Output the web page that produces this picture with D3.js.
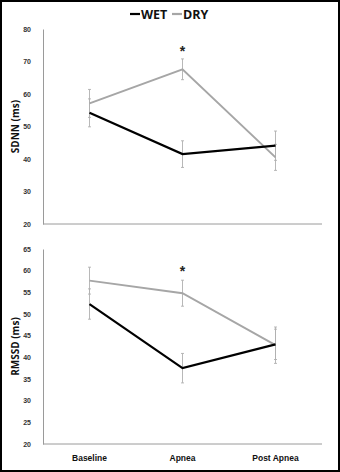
<!DOCTYPE html>
<html><head><meta charset="utf-8">
<script src="https://cdn.jsdelivr.net/npm/d3@7"></script>
<style>body{margin:0;background:#fff}svg{display:block}</style>
</head><body>
<script>
const categories = ["Baseline", "Apnea", "Post Apnea"];
const seriesNames = ["WET", "DRY"];
// SDNN (ms)
const sdnnWet = [54.2, 41.5, 44.1];
const sdnnWetErr = [4.3, 4.1, 4.5];
const sdnnDry = [57.1, 67.6, 40.5];
const sdnnDryErr = [4.3, 3.2, 4.0];
const sdnnTicks = [20, 30, 40, 50, 60, 70, 80];
// RMSSD (ms)
const rmssdWet = [52.3, 37.5, 43.0];
const rmssdWetErr = [3.5, 3.4, 3.5];
const rmssdDry = [57.7, 54.8, 42.8];
const rmssdDryErr = [3.1, 3.0, 4.2];
const rmssdTicks = [20, 25, 30, 35, 40, 45, 50, 55, 60, 65];
const significant = ["Apnea"];

const W = 340, H = 472;
const svg = d3.select("body").append("svg").attr("width", W).attr("height", H);
svg.append("rect").attr("x", 1).attr("y", 1).attr("width", W - 2).attr("height", H - 2)
  .attr("fill", "#fff").attr("stroke", "#000").attr("stroke-width", 2);

const colors = {WET: "#000", DRY: "#a6a6a6"};
const x = d3.scalePoint().domain(categories).range([43, 322]).padding(0.5);

// legend
const lg = svg.append("g").attr("font-family", "Open Sans, Arial, sans-serif").attr("font-weight", "bold").attr("font-size", 12.5);
const legendItems = [{name: "WET", x: 130}, {name: "DRY", x: 172}];
legendItems.forEach(d => {
  lg.append("line").attr("x1", d.x).attr("x2", d.x + 10).attr("y1", 14).attr("y2", 14)
    .attr("stroke", colors[d.name]).attr("stroke-width", 2.2);
  lg.append("text").attr("x", d.x + 11).attr("y", 18.5).attr("fill", "#111").text(d.name);
});

function panel(top, bottom, domain, ticks, wet, wetErr, dry, dryErr, label, starOffset) {
  const y = d3.scaleLinear().domain(domain).range([bottom, top]);
  const g = svg.append("g");
  // axes
  const ya = g.append("g").attr("transform", "translate(43,0)")
    .call(d3.axisLeft(y).tickValues(ticks).tickSize(0).tickPadding(12));
  ya.select(".domain").attr("stroke", "#9a9a9a").attr("stroke-width", 1);
  ya.selectAll("text").attr("font-family", "Arial, sans-serif").attr("font-size", 7)
    .attr("font-weight", "bold").attr("fill", "#333");
  const xa = g.append("g").attr("transform", `translate(0,${bottom})`)
    .call(d3.axisBottom(x).tickSize(0).tickFormat(""));
  xa.select(".domain").attr("stroke", "#9a9a9a").attr("stroke-width", 1)
    .attr("d", `M43,0H322`);
  g.append("text").attr("transform", `translate(19,${(top + bottom) / 2}) rotate(-90)`)
    .attr("text-anchor", "middle").attr("font-family", "Open Sans, Arial, sans-serif")
    .attr("font-weight", "bold").attr("font-size", 10).attr("fill", "#111").text(label);

  const series = [
    {name: "DRY", vals: dry, err: dryErr},
    {name: "WET", vals: wet, err: wetErr}
  ];
  // error bars
  series.forEach(s => {
    const eg = g.append("g").attr("stroke", "#b0b0b0").attr("stroke-width", 0.9);
    categories.forEach((c, i) => {
      const cx = x(c);
      const y1 = y(s.vals[i] + s.err[i]), y2 = y(s.vals[i] - s.err[i]);
      eg.append("line").attr("x1", cx).attr("x2", cx).attr("y1", y1).attr("y2", y2);
      eg.append("line").attr("x1", cx - 1.5).attr("x2", cx + 1.5).attr("y1", y1).attr("y2", y1);
      eg.append("line").attr("x1", cx - 1.5).attr("x2", cx + 1.5).attr("y1", y2).attr("y2", y2);
    });
  });
  const line = d3.line().x((d, i) => x(categories[i])).y(d => y(d));
  series.forEach(s => {
    g.append("path").datum(s.vals).attr("d", line).attr("fill", "none")
      .attr("stroke", colors[s.name]).attr("stroke-width", s.name === "WET" ? 2.2 : 2);
  });
  significant.forEach(c => {
    const i = categories.indexOf(c);
    g.append("text").attr("x", x(c)).attr("y", y(Math.max(dry[i] + dryErr[i], wet[i] + wetErr[i])) - starOffset)
      .attr("text-anchor", "middle").attr("font-family", "Arial, sans-serif")
      .attr("font-weight", "bold").attr("font-size", 14).attr("fill", "#222").text("*");
  });
}

panel(29, 224, [20, 80], sdnnTicks, sdnnWet, sdnnWetErr, sdnnDry, sdnnDryErr, "SDNN (ms)", 3);
panel(249, 444, [20, 65], rmssdTicks, rmssdWet, rmssdWetErr, rmssdDry, rmssdDryErr, "RMSSD (ms)", 4);

// x category labels
svg.append("g").selectAll("text").data(categories).join("text")
  .attr("x", d => x(d)).attr("y", 461).attr("text-anchor", "middle")
  .attr("font-family", "Arial, sans-serif").attr("font-weight", "bold")
  .attr("font-size", 8.5).attr("fill", "#111").text(d => d);
</script>
</body></html>
